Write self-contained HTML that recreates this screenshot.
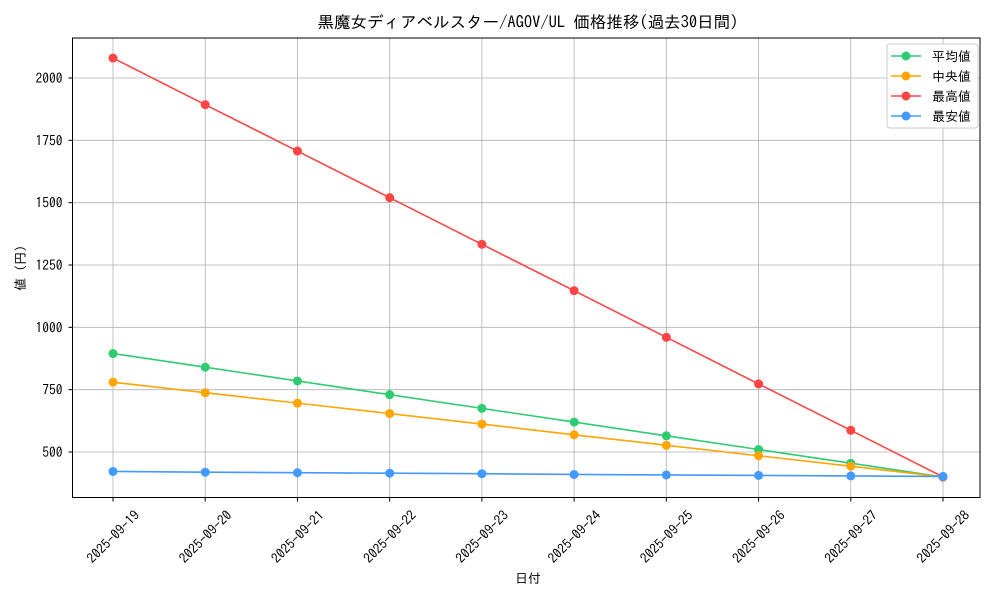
<!DOCTYPE html>
<html><head><meta charset="utf-8"><style>
body{margin:0;background:#fff}
svg text{font-family:"IPAGothic","Noto Sans CJK JP",sans-serif;fill:#000}
</style></head><body>
<svg id="chart" width="1000" height="600" xmlns="http://www.w3.org/2000/svg">
<rect width="1000" height="600" fill="#fff"/>
<text x="528" y="28" text-anchor="middle" font-size="16.5">黒魔女ディアベルスター/AGOV/UL 価格推移(過去30日間)</text>
<g id="grid"></g><g id="axes"></g><g id="series"></g>
<text x="528" y="583" text-anchor="middle" font-size="13">日付</text>
<text transform="translate(25,268) rotate(-90)" text-anchor="middle" font-size="13">値 (円)</text>
<g id="legend"></g>
</svg>
<script>
const dates=["2025-09-19","2025-09-20","2025-09-21","2025-09-22","2025-09-23","2025-09-24","2025-09-25","2025-09-26","2025-09-27","2025-09-28"];
const avgVals=[895,840,785,730,675,620,565,510,455,400];
const medVals=[780,738,696,654,612,569,527,485,443,400];
const maxVals=[2080,1893,1707,1520,1333,1147,960,773,587,400];
const minVals=[422,419,417,415,413,410,408,406,404,402];
const yTicks=[500,750,1000,1250,1500,1750,2000];
const seriesNames=["平均値","中央値","最高値","最安値"];
const NS="http://www.w3.org/2000/svg";
const L=72.5,R=980,T=38,B=497.5;
const xS=i=>113+i*(943-113)/(dates.length-1);
const yS=v=>452-(v-500)*374/1500;
function mk(tag,attrs,parent){const e=document.createElementNS(NS,tag);for(const k in attrs)e.setAttribute(k,attrs[k]);parent.appendChild(e);return e;}
const grid=document.getElementById('grid'),axes=document.getElementById('axes'),ser=document.getElementById('series'),leg=document.getElementById('legend');
dates.forEach((d,i)=>{
 const x=xS(i);
 const g=mk('line',{x1:x,x2:x,y1:T,y2:B,stroke:'#b0b0b0','stroke-width':0.8},grid);
 
 
 mk('line',{x1:x,x2:x,y1:B,y2:B+4,stroke:'#000'},axes);
 const cx=x,cy=B+39;
 const t=mk('text',{x:cx,y:cy+5,'text-anchor':'middle','font-size':13.5,transform:`rotate(-45 ${cx} ${cy})`},axes);
 t.textContent=d;
 
 
});
yTicks.forEach(v=>{
 const y=yS(v);
 const g=mk('line',{x1:L,x2:R,y1:y,y2:y,stroke:'#b0b0b0','stroke-width':0.8},grid);
 
 
 mk('line',{x1:L-4,x2:L,y1:y,y2:y,stroke:'#000'},axes);
 const t=mk('text',{x:L-10,y:y+5,'text-anchor':'end','font-size':13.5},axes);
 t.textContent=v;
 
 
});
const fr=mk('rect',{x:L,y:T,width:R-L,height:B-T,fill:'none',stroke:'#000','stroke-width':1},axes);


const all=[avgVals,medVals,maxVals,minVals];
const colors=["#2ecc71","#ffa500","#ff4444","#4499ff"];
const snames=["series-average","series-median","series-max","series-min"];
all.forEach((vals,si)=>{
 const g=mk('g',{},ser);
 
 
 mk('polyline',{points:vals.map((v,i)=>xS(i)+','+yS(v)).join(' '),fill:'none',stroke:colors[si],'stroke-width':1.6},g);
 vals.forEach((v,i)=>{
  const c=mk('circle',{cx:xS(i),cy:yS(v),r:4.5,fill:colors[si]},g);
  
  
 });
});
const lb=mk('rect',{x:887,y:44,width:91,height:84,rx:3,fill:'#fff','fill-opacity':0.85,stroke:'#ccc'},leg);


seriesNames.forEach((n,i)=>{
 const y=56+i*20;
 const g=mk('g',{},leg);
 
 
 mk('line',{x1:891,x2:921,y1:y,y2:y,stroke:colors[i],'stroke-width':1.6},g);
 mk('circle',{cx:906,cy:y,r:4.5,fill:colors[i]},g);
 const t=mk('text',{x:932,y:y+5,'font-size':13},g);
 t.textContent=n;
});
</script>
</body></html>
